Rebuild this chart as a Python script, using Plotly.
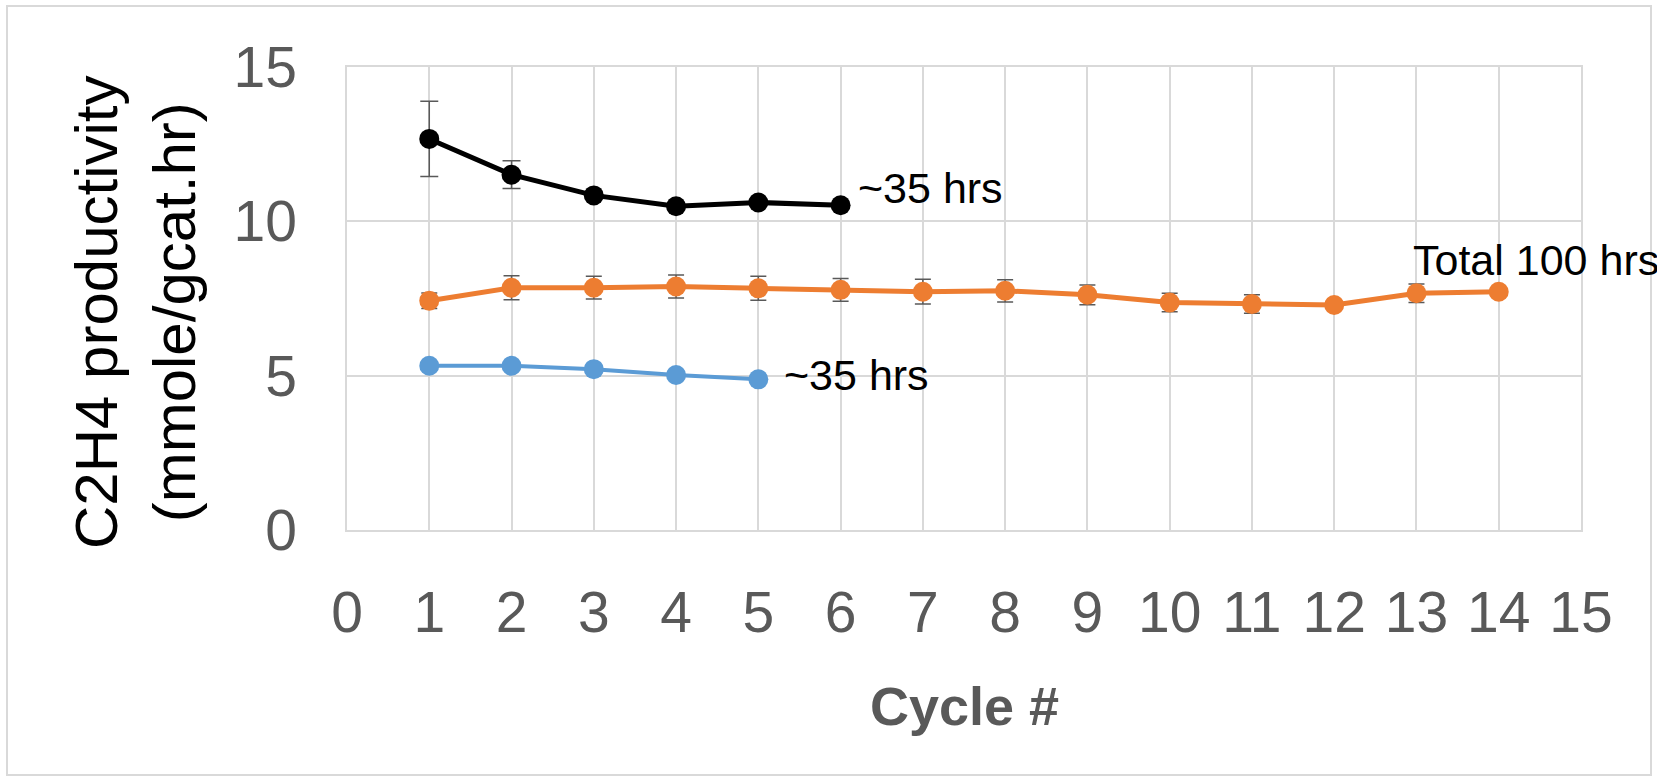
import plotly.graph_objects as go

# ---------------- data ----------------
black_x = [1, 2, 3, 4, 5, 6]
black_y = [12.67, 11.51, 10.84, 10.49, 10.61, 10.52]
black_err = [1.22, 0.45, 0, 0, 0, 0]

orange_x = [1, 2, 3, 4, 5, 6, 7, 8, 9, 10, 11, 12, 13, 14]
orange_y = [7.43, 7.85, 7.85, 7.89, 7.83, 7.78, 7.72, 7.75, 7.62, 7.37, 7.32, 7.29, 7.67, 7.72]
orange_err = [0.25, 0.39, 0.37, 0.37, 0.39, 0.37, 0.40, 0.36, 0.32, 0.30, 0.30, 0.05, 0.30, 0.05]

blue_x = [1, 2, 3, 4, 5]
blue_y = [5.32, 5.32, 5.21, 5.02, 4.88]

x_ticks = list(range(0, 16))
y_ticks = [0, 5, 10, 15]

y_title = "C2H4 productivity<br>(mmole/gcat.hr)"
x_title = "<b>Cycle #</b>"
label_black = "~35 hrs"
label_blue = "~35 hrs"
label_orange = "Total 100 hrs"

# ---------------- styling ----------------
W, H = 1657, 780
ML, MR, MT, MB = 347, 76, 67, 250
PW, PH = W - ML - MR, H - MT - MB
FONT = "'Liberation Sans', Arial, sans-serif"
GRID = "#d9d9d9"
TICK_COL = "#595959"


def px_to_paper_x(px):
    return (px - ML) / PW


def px_to_paper_y(py):
    return (H - MB - py) / PH


fig = go.Figure()

fig.add_trace(go.Scatter(
    x=orange_x, y=orange_y, mode="lines+markers",
    line=dict(color="#ED7D31", width=5),
    marker=dict(color="#ED7D31", size=20),
    error_y=dict(type="data", array=orange_err, color="#595959", thickness=1.5, width=8),
    showlegend=False,
))
fig.add_trace(go.Scatter(
    x=blue_x, y=blue_y, mode="lines+markers",
    line=dict(color="#5B9BD5", width=4),
    marker=dict(color="#5B9BD5", size=20),
    showlegend=False,
))
fig.add_trace(go.Scatter(
    x=black_x, y=black_y, mode="lines+markers",
    line=dict(color="#000000", width=5),
    marker=dict(color="#000000", size=20),
    error_y=dict(type="data", array=black_err, color="#595959", thickness=1.5, width=9),
    showlegend=False,
))

axis_common = dict(
    showgrid=True, gridcolor=GRID, gridwidth=1.5,
    showline=True, mirror=True, linecolor=GRID, linewidth=1.5,
    zeroline=False, ticks="",
    tickfont=dict(family=FONT, size=57, color=TICK_COL),
)

fig.update_layout(
    width=W, height=H,
    margin=dict(l=ML, r=MR, t=MT, b=MB, pad=0),
    paper_bgcolor="white", plot_bgcolor="white",
    font=dict(family=FONT),
    xaxis=dict(range=[0, 15], tickvals=x_ticks, ticklabelstandoff=32, **axis_common),
    yaxis=dict(range=[0, 15], tickvals=y_ticks, ticklabelstandoff=37, **axis_common),
    annotations=[
        dict(text=y_title, textangle=-90, xref="paper", yref="paper",
             x=px_to_paper_x(135), y=px_to_paper_y(312), xanchor="center", yanchor="middle",
             showarrow=False, font=dict(family=FONT, size=60, color="black")),
        dict(text=x_title, xref="paper", yref="paper",
             x=0.5, y=px_to_paper_y(706), xanchor="center", yanchor="middle",
             showarrow=False, font=dict(family=FONT, size=54, color=TICK_COL)),
        dict(text=label_black, x=black_x[-1], y=black_y[-1], xref="x", yref="y",
             xanchor="left", yanchor="middle", xshift=15, yshift=17,
             showarrow=False, font=dict(family=FONT, size=43, color="black")),
        dict(text=label_blue, x=blue_x[-1], y=blue_y[-1], xref="x", yref="y",
             xanchor="left", yanchor="middle", xshift=24, yshift=4,
             showarrow=False, font=dict(family=FONT, size=43, color="black")),
        dict(text=label_orange, x=orange_x[-1], y=orange_y[-1], xref="x", yref="y",
             xanchor="left", yanchor="middle", xshift=-88, yshift=32,
             showarrow=False, font=dict(family=FONT, size=43, color="black")),
    ],
    shapes=[
        dict(type="rect", xref="paper", yref="paper",
             x0=px_to_paper_x(7), x1=px_to_paper_x(1651),
             y0=px_to_paper_y(775), y1=px_to_paper_y(6),
             line=dict(color=GRID, width=2), layer="below"),
    ],
)

fig.write_html("out.html", config={"displayModeBar": False},
               post_script="document.body.style.margin='0';")
